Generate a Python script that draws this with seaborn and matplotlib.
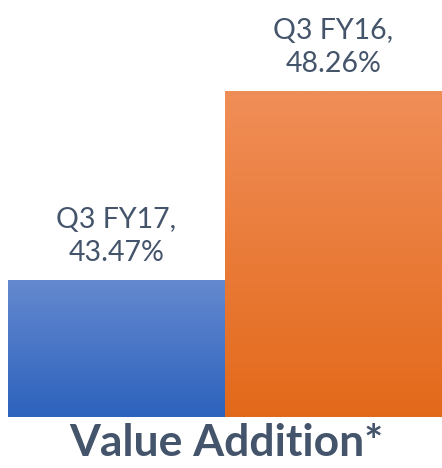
import numpy as np
import pandas as pd
import matplotlib
matplotlib.use("Agg")
import matplotlib.pyplot as plt
import seaborn as sns
from matplotlib.colors import LinearSegmentedColormap

categories = ["Q3 FY17", "Q3 FY16"]
values = [43.47, 48.26]
title = "Value Addition*"

sns.set_theme(style="white")
plt.rcParams['font.family'] = ['Lato', 'DejaVu Sans']

df = pd.DataFrame({"period": categories, "value": values})

fig = plt.figure(figsize=(4.42, 4.68), dpi=100)
ax = fig.add_axes([8/442, 1 - 416.7/468, 1 - 8/442, 416.7/468])

sns.barplot(data=df, x="period", y="value", hue="period", width=1.0,
            palette=["#4472C4", "#ED7D31"], legend=False, ax=ax, saturation=1)

ax.set_ylim(40, 50.56)
ax.set_xlim(-0.5, 1.5)

grads = [("#6489CF", "#2D62BD"), ("#F08E58", "#E3691A")]
for patch, (ctop, cbot) in zip(ax.patches, grads):
    x0, y0 = patch.get_x(), patch.get_y()
    w, h = patch.get_width(), patch.get_height()
    cmap = LinearSegmentedColormap.from_list("g", [cbot, ctop])
    grad = np.linspace(0, 1, 256).reshape(-1, 1)
    im = ax.imshow(grad, cmap=cmap, aspect='auto', origin='lower',
                   extent=[x0, x0 + w, 40, y0 + h], zorder=patch.get_zorder() + 0.1)
    im.set_clip_path(patch)
    patch.set_edgecolor('none')

for i, (cat, v) in enumerate(zip(categories, values)):
    ax.annotate(f"{cat},\n{v:.2f}%", xy=(i, v), xytext=(0, 14),
                textcoords='offset pixels', ha='center', va='bottom',
                fontsize=20.5, color='#44546A', linespacing=1.3)

ax.set_xticks([])
ax.set_yticks([])
ax.set_xlabel("")
ax.set_ylabel("")
for s in ax.spines.values():
    s.set_visible(False)

fig.text(226/442, 1 - 443/468, title, ha='center', va='center',
         fontsize=32, fontweight='bold', color='#44546A')

fig.savefig("out.png", dpi=100)
